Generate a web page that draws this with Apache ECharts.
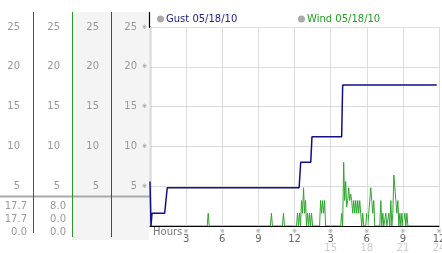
<!DOCTYPE html>
<html><head><meta charset="utf-8">
<script src="https://cdn.jsdelivr.net/npm/echarts@6/dist/echarts.min.js"></script>
<style>html,body{margin:0;padding:0;background:#fff}#c{width:442px;height:253px}</style>
</head><body><div id="c"></div>
<script>
// ---- data ----
const yTicks = [0, 5, 10, 15, 20, 25];
const hourTopLabels = ['', '3', '6', '9', '12', '3', '6', '9', '12'];
const hourBottomLabels = ['', '', '', '', '', '15', '18', '21', '24'];
const gustName = 'Gust 05/18/10';
const windName = 'Wind 05/18/10';
// [minutes since start, mph]
const gustData = [[0,5.6],[5,0],[10,1.6],[73,1.6],[86,4.8],[743,4.8],[751,8.0],[801,8.0],[807,11.2],[955,11.2],[960,17.7],[1429,17.7]];
const windData = [[0,0],[285,0],[290,1.6],[295,0],[600,0],[605,1.6],[610,0],[660,0],[665,1.6],[670,0],
[730,0],[735,1.6],[740,0],[745,1.6],[750,0],[755,3.2],[760,1.6],[765,4.8],[770,1.6],[775,3.2],[780,0],[785,1.6],[790,0],[795,1.6],[800,0],[805,1.6],[810,0],
[845,0],[850,3.2],[855,1.6],[860,3.2],[865,1.6],[870,3.2],[875,0],
[950,0],[955,1.6],[960,0],[965,8.0],[970,3.2],[975,5.6],[980,2.4],[985,3.2],[990,4.8],[995,3.2],[1000,4.0],[1005,3.2],[1010,1.6],[1015,3.2],[1020,1.6],[1025,3.2],[1030,1.6],[1035,3.2],[1040,1.6],[1045,3.2],[1050,1.6],[1055,0],[1060,1.6],[1065,0],[1075,0],[1080,1.6],[1085,0],[1090,1.6],[1095,1.6],[1100,4.8],[1105,3.2],[1110,1.6],[1115,3.2],[1120,0],
[1145,0],[1150,3.2],[1155,0],[1160,1.6],[1165,0],[1175,1.6],[1180,0],[1190,1.6],[1195,0],[1200,3.2],[1205,0],[1210,1.6],[1215,6.4],[1220,4.8],[1225,3.2],[1230,1.6],[1235,3.2],[1240,0],[1245,1.6],[1250,0],[1255,1.6],[1260,0],[1270,1.6],[1275,0],[1280,1.6],[1285,0],[1440,0]];
const gustStats = ['17.7', '17.7', '0.0'];
const windStats = ['8.0', '0.0', '0.0'];

const toHours = d => d.map(p => [p[0] / 60, p[1]]);
const FONT = 'DejaVu Sans';
const chart = echarts.init(document.getElementById('c'));

function colAxis(offset) {
  return {
    type: 'value', min: 0, max: 25, interval: 5, position: 'left', offset: offset,
    axisLine: {show: false}, axisTick: {show: false}, splitLine: {show: false},
    axisLabel: {margin: 0, color: '#999', fontFamily: FONT, fontSize: 10,
      formatter: v => v === 0 ? '' : String(v)}
  };
}

const statTexts = [];
gustStats.forEach((s, i) => statTexts.push({type: 'text', right: 442 - 27, top: 201 + i * 13,
  style: {text: s, fill: '#999', font: '10px "DejaVu Sans"', textAlign: 'right'}}));
windStats.forEach((s, i) => statTexts.push({type: 'text', right: 442 - 66, top: 201 + i * 13,
  style: {text: s, fill: '#999', font: '10px "DejaVu Sans"', textAlign: 'right'}}));

chart.setOption({
  animation: false,
  backgroundColor: '#fff',
  grid: {left: 150, right: 3, top: 27, bottom: 27, outerBoundsMode: 'none', containLabel: false},
  legend: [
    {data: [gustName], left: 157, top: 14, padding: 0, itemWidth: 7, itemHeight: 7, itemGap: 4,
     icon: 'circle', textStyle: {color: '#1c1c8c', fontFamily: FONT, fontSize: 10, padding: [0,0,0,-3]},
     selectedMode: false},
    {data: [windName], left: 298, top: 14, padding: 0, itemWidth: 7, itemHeight: 7, itemGap: 4,
     icon: 'circle', textStyle: {color: '#22a022', fontFamily: FONT, fontSize: 10, padding: [0,0,0,-3]},
     selectedMode: false}
  ],
  graphic: [
    {type: 'rect', shape: {x: 73, y: 12, width: 76, height: 228}, style: {fill: '#f4f4f4'}, z: -10},
    {type: 'line', shape: {x1: 0, y1: 196.5, x2: 150, y2: 196.5}, style: {stroke: '#aaa', lineWidth: 2}, z: 1},
    {type: 'line', shape: {x1: 33.5, y1: 12, x2: 33.5, y2: 233}, style: {stroke: '#2a4fc0', lineWidth: 1}, z: 2},
    {type: 'line', shape: {x1: 72.5, y1: 12, x2: 72.5, y2: 237}, style: {stroke: '#2a9a2a', lineWidth: 1}, z: 2},
    {type: 'line', shape: {x1: 111.5, y1: 12, x2: 111.5, y2: 237}, style: {stroke: '#b02222', lineWidth: 1}, z: 2},
    {type: 'line', shape: {x1: 149.5, y1: 12, x2: 149.5, y2: 28}, style: {stroke: '#000', lineWidth: 1.2}, z: 2},
    {type: 'text', left: 153, top: 227, style: {text: 'Hours', fill: '#777', font: '10px "DejaVu Sans"'}},
    ...statTexts
  ],
  xAxis: {
    type: 'value', min: 0, max: 24, interval: 3, z: 3,
    axisLine: {lineStyle: {color: '#000', width: 1.2}},
    axisTick: {show: false},
    splitLine: {show: true, lineStyle: {color: '#dcdcdc', width: 1}},
    axisLabel: {
      margin: 2, showMinLabel: false, showMaxLabel: true, align: 'center',
      formatter: v => {
        const i = Math.round(v / 3);
        if (!hourTopLabels[i]) return '';
        return '{t|※}\n{n|' + hourTopLabels[i] + '}\n{m|' + (hourBottomLabels[i] || ' ') + '}';
      },
      rich: {
        t: {fontSize: 6, lineHeight: 7, color: '#888', fontFamily: FONT},
        n: {fontSize: 10, lineHeight: 8, color: '#666', fontFamily: FONT},
        m: {fontSize: 10, lineHeight: 10, color: '#ccc', fontFamily: FONT}
      }
    }
  },
  yAxis: [
    {type: 'value', min: 0, max: 25, interval: 5, position: 'left',
     axisLine: {show: true, lineStyle: {color: '#000', width: 1.2}}, axisTick: {show: false},
     splitLine: {lineStyle: {color: '#dcdcdc', width: 1}},
     axisLabel: {margin: 3, color: '#888', fontSize: 6, fontFamily: FONT, formatter: v => v === 0 ? '' : '※'}},
    colAxis(13), colAxis(51), colAxis(90), colAxis(130)
  ],
  series: [
    {name: windName, type: 'line', data: toHours(windData), showSymbol: false, symbol: 'none',
     lineStyle: {color: '#2fa52f', width: 1}, itemStyle: {color: '#aaa', borderColor: '#888'}, z: 2},
    {name: gustName, type: 'line', data: toHours(gustData), showSymbol: false, symbol: 'none',
     lineStyle: {color: '#10108a', width: 1.5}, itemStyle: {color: '#aaa', borderColor: '#888'}, z: 3}
  ]
});
</script></body></html>
